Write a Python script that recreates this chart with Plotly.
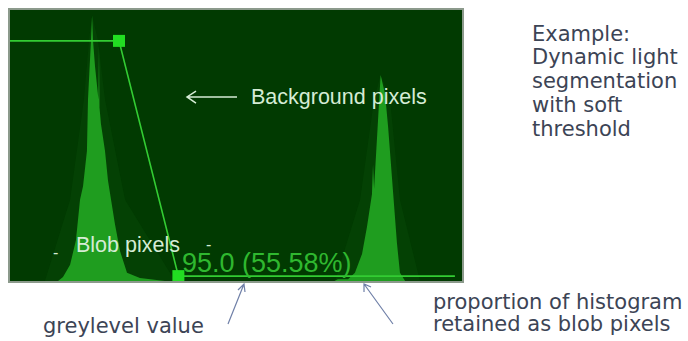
import plotly.graph_objects as go

# ---- data (greylevel 0..255, normalised histogram counts) ----
hist_grey = [0, 27.1, 29.9, 33.9, 37.2, 39.5, 41.2, 42.3, 43.4, 44.0, 45.1, 45.7, 46.3, 46.8, 48.0,
             49.6, 49.9, 50.2, 50.5, 51.3, 53.6, 55.3, 57.0, 59.2, 62.1, 66.0, 73.3, 84.6, 87.4,
             183.0, 185.0, 190.7, 194.6, 198.6, 201.4, 204.2, 204.8, 205.4, 206.5, 207.6, 209.1,
             210.4, 211.6, 213.3, 216.1, 218.3, 220.0, 222.9, 255]
hist_count = [0, 0, 0.015, 0.06, 0.15, 0.30, 0.35, 0.43, 0.48, 0.67, 0.79, 0.89, 0.98, 0.89, 0.79,
              0.67, 0.67, 0.87, 0.64, 0.58, 0.48, 0.37, 0.30, 0.21, 0.11, 0.03, 0.011, 0.004, 0,
              0, 0.006, 0.006, 0.03, 0.10, 0.20, 0.32, 0.43, 0.34, 0.45, 0.59, 0.76,
              0.72, 0.69, 0.57, 0.32, 0.14, 0.03, 0, 0]

halo_grey = [0, 19.7, 33.9, 41.7, 44.6, 46.3, 49.6, 53.6, 64.9, 93.1,
             183.4, 197.5, 205.4, 209.1, 214.4, 220.0, 231.3, 255]
halo_count = [0, 0, 0.30, 0.67, 0.89, 0.98, 0.89, 0.67, 0.30, 0,
              0, 0.30, 0.67, 0.76, 0.67, 0.30, 0, 0]

thr_grey = [0, 61.5, 95.0, 251]
thr_level = [0.886, 0.886, 0.018, 0.018]

threshold_label = "95.0 (55.58%)"
side_lines = ["Example:", "Dynamic light", "segmentation", "with soft", "threshold"]

# ---- layout helpers (pixel -> paper) ----
L, T, R, B = 10, 10, 462, 281
def px(x):
    return (x - L) / (R - L)
def py(y):
    return (B - y) / (B - T)

BG = "#013a01"
HALO = "#044104"
FILL = "#1f9d1f"
LINE = "#33cc33"
TXT = "#d5ecd5"
NOTE = "#3c4455"
BLUE = "#7080a8"

fig = go.Figure()
fig.add_trace(go.Scatter(x=halo_grey, y=halo_count, mode="lines", fill="tozeroy",
                         fillcolor=HALO, line=dict(width=0, color=HALO), hoverinfo="skip"))
fig.add_trace(go.Scatter(x=hist_grey, y=hist_count, mode="lines", fill="tozeroy",
                         fillcolor=FILL, line=dict(width=0, color=FILL), hoverinfo="skip"))
fig.add_trace(go.Scatter(x=thr_grey, y=thr_level, mode="lines",
                         line=dict(width=1.6, color=LINE), hoverinfo="skip"))
fig.add_trace(go.Scatter(x=thr_grey[1:3], y=thr_level[1:3], mode="markers",
                         marker=dict(symbol="square", size=12, color="#22dd22"),
                         hoverinfo="skip"))

ann = []
def text(x, y, s, size, color, family, anchor="left"):
    ann.append(dict(x=px(x), y=py(y), xref="paper", yref="paper", text=s, showarrow=False,
                    xanchor=anchor, yanchor="middle",
                    font=dict(size=size, color=color, family=family)))

text(249, 97, "Background pixels", 21.5, TXT, "Liberation Sans, Arial")
text(74, 245, "Blob pixels", 21.5, TXT, "Liberation Sans, Arial")
text(180, 263, threshold_label, 27, "#2fb82f", "Liberation Sans, Arial")
text(51, 252, "-", 16, TXT, "Liberation Sans, Arial")
text(204, 244, "-", 16, TXT, "Liberation Sans, Arial")

ys = [34, 57, 81, 105, 129]
for s, y in zip(side_lines, ys):
    text(530, y, s, 21, NOTE, "DejaVu Sans")
text(41, 326, "greylevel value", 21, NOTE, "DejaVu Sans")
text(431, 302, "proportion of histogram", 21, NOTE, "DejaVu Sans")
text(431, 324, "retained as blob pixels", 21, NOTE, "DejaVu Sans")

shapes = []
def path(points, color, width):
    d = ""
    for seg in points:
        for j, (x, y) in enumerate(seg):
            d += ("M" if j == 0 else "L") + f"{px(x):.4f},{py(y):.4f} "
    shapes.append(dict(type="path", path=d, xref="paper", yref="paper",
                       line=dict(color=color, width=width)))

# arrows
path([[(237, 97), (187, 97)], [(196, 91), (187, 97), (196, 103)]], TXT, 1.5)
path([[(228, 324), (244, 284)], [(238, 290), (244, 284), (245, 292)]], BLUE, 1.2)
path([[(393, 324), (364, 284)], [(364, 292), (364, 284), (371, 287)]], BLUE, 1.2)

# frame
shapes.append(dict(type="rect", xref="paper", yref="paper", x0=px(9), x1=px(463), y0=py(282), y1=py(9),
                   line=dict(color="#8c9a8c", width=2), fillcolor="rgba(0,0,0,0)"))

fig.update_layout(
    width=688, height=341,
    margin=dict(l=L, r=688 - R, t=T, b=341 - B),
    paper_bgcolor="white", plot_bgcolor=BG,
    showlegend=False,
    xaxis=dict(range=[0, 255], visible=False, fixedrange=True),
    yaxis=dict(range=[0, 1], visible=False, fixedrange=True),
    annotations=ann, shapes=shapes,
)
fig.write_html("out.html", config={"displayModeBar": False},
               post_script="document.body.style.margin='0';document.body.style.overflow='hidden';")
